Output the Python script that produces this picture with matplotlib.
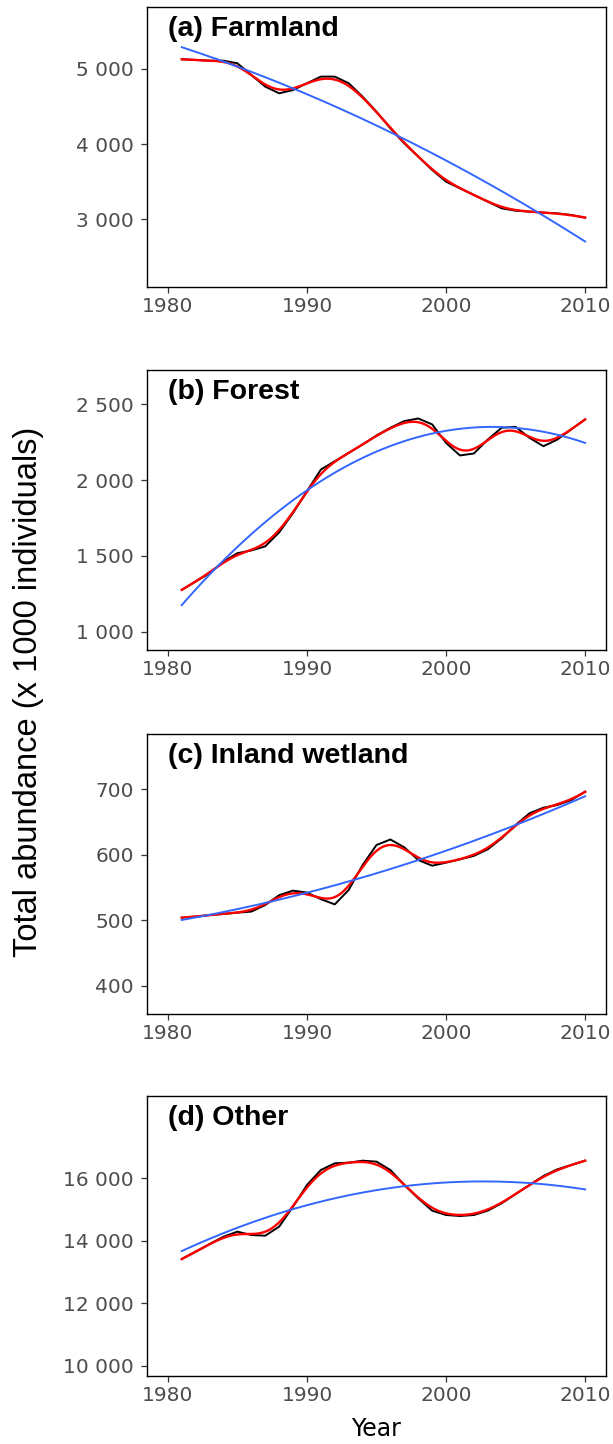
import numpy as np
import matplotlib
matplotlib.use("Agg")
import matplotlib.pyplot as plt
from matplotlib.ticker import FuncFormatter, FixedLocator

plt.rcParams['font.family'] = ['Liberation Sans', 'DejaVu Sans']

years = list(range(1981, 2011))

farmland = [5129, 5120, 5110, 5110, 5075, 4920, 4765, 4676, 4720, 4810,
            4898, 4898, 4810, 4632, 4432, 4210, 4010, 3834, 3656, 3501,
            3412, 3324, 3235, 3146, 3115, 3102, 3089, 3080, 3058, 3022]
forest = [1276, 1331, 1386, 1463, 1518, 1536, 1563, 1655, 1783, 1927,
          2070, 2125, 2180, 2235, 2295, 2346, 2390, 2407, 2368, 2246,
          2163, 2176, 2268, 2346, 2352, 2279, 2224, 2268, 2335, 2401]
wetland = [503.8, 505.3, 507.8, 509.4, 511.4, 513, 523, 538, 545, 542,
           532, 524, 546, 584, 614.6, 623, 611, 591.7, 583, 587.6,
           592.7, 598, 608, 624.8, 645, 663, 671.5, 675.6, 683, 696]
other = [13416, 13651, 13896, 14131, 14292, 14185, 14163, 14452, 15092, 15786,
         16267, 16481, 16502, 16566, 16534, 16267, 15786, 15359, 14964, 14825,
         14793, 14825, 14964, 15199, 15498, 15786, 16075, 16288, 16427, 16566]

titles = ["(a) Farmland", "(b) Forest", "(c) Inland wetland", "(d) Other"]
series = [farmland, forest, wetland, other]
yticks = [[3000, 4000, 5000], [1000, 1500, 2000, 2500],
          [400, 500, 600, 700], [10000, 12000, 14000, 16000]]
ylims = [(2100, 5824), (879, 2727), (356.8, 783.9), (9669, 18637)]
xticks = [1980, 1990, 2000, 2010]


def local_linear(x, y, grid, bw):
    out = []
    for g in grid:
        w = np.sqrt(np.exp(-0.5 * ((x - g) / bw) ** 2))
        X = np.vstack([np.ones_like(x), x - g]).T
        beta = np.linalg.lstsq(X * w[:, None], y * w, rcond=None)[0]
        out.append(beta[0])
    return np.array(out)


fig = plt.figure(figsize=(6.13, 14.44), dpi=100)
left, width, h = 147 / 613, 459 / 613, 280 / 1444
bottoms = [1 - 287 / 1444, 1 - 650 / 1444, 1 - 1014 / 1444, 1 - 1376 / 1444]

fmt = FuncFormatter(lambda v, p: f"{int(round(v)):,}".replace(",", " "))

axes = []
for i in range(4):
    ax = fig.add_axes([left, bottoms[i], width, h])
    x = np.array(years, dtype=float)
    y = np.array(series[i], dtype=float)
    grid = np.linspace(x.min(), x.max(), 400)
    ax.plot(x, y, color="black", lw=1.4, zorder=2)
    ax.plot(grid, local_linear(x, y, grid, 0.95), color="red", lw=1.7, zorder=3)
    coef = np.polyfit(x - 1995, y, 2)
    ax.plot(grid, np.polyval(coef, grid - 1995), color="#3366FF", lw=1.4, zorder=4)
    ax.set_xlim(1978.5, 2011.5)
    ax.set_ylim(*ylims[i])
    ax.xaxis.set_major_locator(FixedLocator(xticks))
    ax.yaxis.set_major_locator(FixedLocator(yticks[i]))
    ax.yaxis.set_major_formatter(fmt)
    ax.tick_params(direction="out", length=4, width=0.9, color="#333333",
                   labelcolor="#4D4D4D", labelsize=14.5, pad=3)
    ax.tick_params(axis="y", pad=5.5)
    for lab in ax.get_xticklabels() + ax.get_yticklabels():
        lab.set_family("DejaVu Sans")
    for s in ax.spines.values():
        s.set_linewidth(1.0)
        s.set_color("black")
    ax.text(0.045, 0.968, titles[i], transform=ax.transAxes, ha="left", va="top",
            fontsize=20.5, fontweight="bold", color="black")
    axes.append(ax)

axes[3].set_xlabel("Year", fontsize=17, labelpad=9, family="DejaVu Sans")
fig.text(28.5 / 613, 1 - 692 / 1444, "Total abundance (x 1000 individuals)",
         rotation=90, ha="center", va="center", fontsize=23.5)

fig.savefig("out.png", dpi=100)
